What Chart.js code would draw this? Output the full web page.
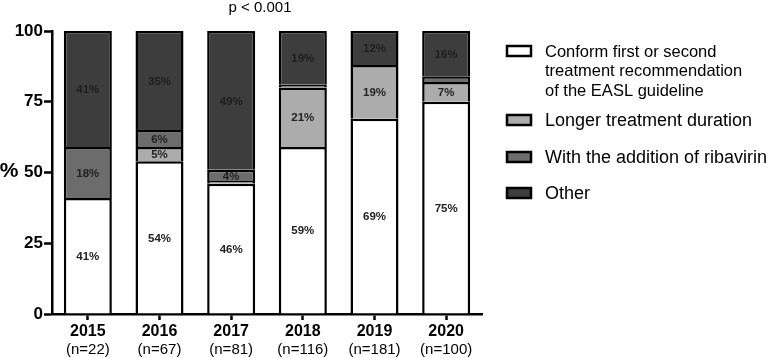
<!DOCTYPE html>
<html>
<head>
<meta charset="utf-8">
<script src="https://cdn.jsdelivr.net/npm/chart.js@4.4.1/dist/chart.umd.min.js"></script>
<style>
  html, body { margin: 0; padding: 0; background: #fff; }
  #wrap { width: 777px; height: 358px; }
</style>
</head>
<body>
<div id="wrap"><canvas id="grafico" width="777" height="358"></canvas></div>
<script>
// dados (percentuais por ano)
var anos = ['2015', '2016', '2017', '2018', '2019', '2020'];
var totais = [22, 67, 81, 116, 181, 100];
var conforme = [41, 54, 46, 59, 69, 75];
var maisLongo = [0, 5, 1, 21, 19, 7];
var ribavirina = [18, 6, 4, 1, 0, 2];
var outros = [41, 35, 49, 19, 12, 16];
var ticksY = [0, 25, 50, 75, 100];

var nomes = [
    ['Conform first or second', 'treatment recommendation', 'of the EASL guideline'],
    ['Longer treatment duration'],
    ['With the addition of ribavirin'],
    ['Other']
];
var cores = ['#ffffff', '#acacac', '#6c6c6c', '#3d3d3d'];
var fonte = 'Arial, "Liberation Sans", sans-serif';

function serie(label, dados, cor) {
    return {
        label: label,
        data: dados,
        backgroundColor: cor,
        borderColor: '#000',
        borderWidth: { top: 2.5, left: 2.5, right: 2.5, bottom: 0 },
        borderSkipped: false,
        categoryPercentage: 1,
        barPercentage: 0.67
    };
}

// rotulos de percentual dentro das barras, n=..., titulo, % e legenda
var extras = {
    id: 'extras',
    afterDatasetsDraw: function (chart) {
        var ctx = chart.ctx;
        ctx.save();
        ctx.textAlign = 'center';
        ctx.textBaseline = 'middle';
        ctx.font = 'bold 11.5px ' + fonte;
        chart.data.datasets.forEach(function (ds, i) {
            var meta = chart.getDatasetMeta(i);
            meta.data.forEach(function (bar, j) {
                var v = ds.data[j];
                if (v < 4) return;
                ctx.fillStyle = i === 3 ? '#1e1e1e' : '#222';
                ctx.fillText(v + '%', bar.x, (bar.y + bar.base) / 2 + 1);
            });
        });
        ctx.restore();
    },
    afterDraw: function (chart) {
        var ctx = chart.ctx;
        var xs = chart.scales.x;
        var ys = chart.scales.y;
        ctx.save();
        ctx.fillStyle = '#000';
        ctx.textAlign = 'center';
        ctx.textBaseline = 'middle';
        ctx.font = '15px ' + fonte;
        totais.forEach(function (n, j) {
            ctx.fillText('(n=' + n + ')', xs.getPixelForValue(j), 350);
        });
        ctx.font = '15px ' + fonte;
        ctx.fillText('p < 0.001', 260, 8);
        ctx.font = 'bold 21px ' + fonte;
        ctx.fillText('%', 9, ys.getPixelForValue(50) - 1);

        // legenda
        var posY = [51, 120, 157, 193];
        ctx.textAlign = 'left';
        nomes.forEach(function (linhas, i) {
            var y = posY[i];
            ctx.fillStyle = cores[i];
            ctx.strokeStyle = '#000';
            ctx.lineWidth = 2.5;
            ctx.beginPath();
            ctx.rect(507, y - 5, 24, 10);
            ctx.fill();
            ctx.stroke();
            ctx.fillStyle = '#000';
            ctx.font = (i === 0 ? '16.5px ' : '18px ') + fonte;
            linhas.forEach(function (t, k) {
                ctx.fillText(t, 545, y + k * 19.5 + 1);
            });
        });
        ctx.restore();
    }
};

new Chart(document.getElementById('grafico'), {
    type: 'bar',
    data: {
        labels: anos,
        datasets: [
            serie(nomes[0].join(' '), conforme, cores[0]),
            serie(nomes[1][0], maisLongo, cores[1]),
            serie(nomes[2][0], ribavirina, cores[2]),
            serie(nomes[3][0], outros, cores[3])
        ]
    },
    options: {
        responsive: false,
        animation: false,
        layout: { padding: { top: 31, right: 295, left: 0, bottom: 0 } },
        plugins: {
            legend: { display: false },
            title: { display: false },
            tooltip: { enabled: false }
        },
        scales: {
            x: {
                stacked: true,
                offset: true,
                afterFit: function (s) { s.height = 44; },
                grid: { display: true, drawOnChartArea: false, tickLength: 6, tickWidth: 2.5, tickColor: '#000', offset: false },
                border: { display: true, color: '#000', width: 2.5 },
                ticks: { color: '#000', font: { family: fonte, size: 16, weight: 'bold' }, padding: 2 }
            },
            y: {
                stacked: true,
                min: 0,
                max: 100,
                afterFit: function (s) { s.width = 52; },
                afterBuildTicks: function (s) {
                    s.ticks = ticksY.map(function (v) { return { value: v }; });
                },
                grid: { display: true, drawOnChartArea: false, tickLength: 8, tickWidth: 2.5, tickColor: '#000' },
                border: { display: true, color: '#000', width: 2.5 },
                ticks: { color: '#000', font: { family: fonte, size: 17, weight: 'bold' }, padding: 1 }
            }
        }
    },
    plugins: [extras]
});
</script>
</body>
</html>
